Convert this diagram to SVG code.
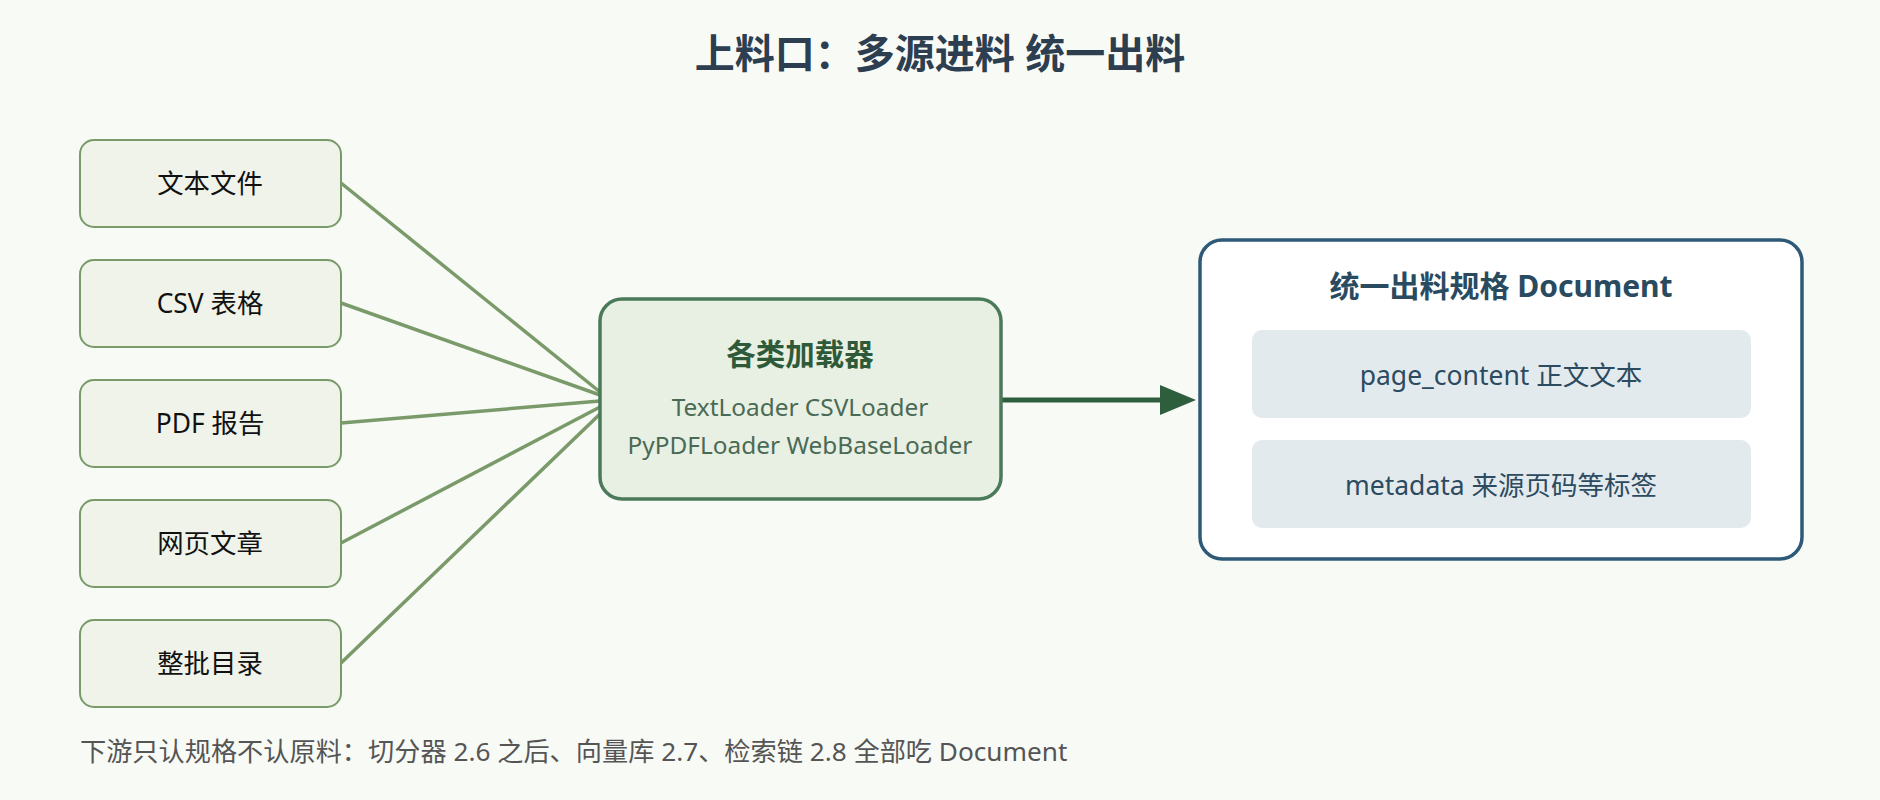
<svg xmlns="http://www.w3.org/2000/svg" width="1880" height="800" viewBox="0 0 1880 800">
<style>
text{font-family:"Noto Sans","Noto Sans CJK SC",sans-serif}
.src rect{fill:#eff3e9;stroke:#7a9a6a;stroke-width:2}
.src text{font-size:26.4px;fill:#111;text-anchor:middle}
.ln{stroke:#7a9a6a;stroke-width:3.5;fill:none}
.in rect{fill:#e3eaee}
.in text{font-size:26.5px;fill:#2c4a60;text-anchor:middle}
</style>
<rect width="1880" height="800" fill="#f8faf6"/>
<text x="940" y="68" font-size="40" font-weight="bold" fill="#2c3e50" text-anchor="middle">上料口：多源进料 统一出料</text>
<g id="connectors">
<line class="ln" x1="341" y1="183" x2="600" y2="392"/>
<line class="ln" x1="341" y1="303" x2="600" y2="395"/>
<line class="ln" x1="341" y1="423" x2="600" y2="401"/>
<line class="ln" x1="341" y1="543" x2="600" y2="407"/>
<line class="ln" x1="341" y1="663" x2="600" y2="414"/>
<line x1="1001" y1="400" x2="1165" y2="400" stroke="#2e5e3e" stroke-width="5"/>
<path d="M1160,385 L1196,400 L1160,415Z" fill="#2e5e3e"/>
</g>
<g id="n1" class="src"><rect x="80" y="140" width="261" height="87" rx="14"/><text x="210" y="193">文本文件</text></g>
<g id="n2" class="src"><rect x="80" y="260" width="261" height="87" rx="14"/><text x="210" y="313">CSV 表格</text></g>
<g id="n3" class="src"><rect x="80" y="380" width="261" height="87" rx="14"/><text x="210" y="433">PDF 报告</text></g>
<g id="n4" class="src"><rect x="80" y="500" width="261" height="87" rx="14"/><text x="210" y="553">网页文章</text></g>
<g id="n5" class="src"><rect x="80" y="620" width="261" height="87" rx="14"/><text x="210" y="673">整批目录</text></g>
<g id="loader">
<rect x="600" y="299" width="401" height="200" rx="22" fill="#e8f0e3" stroke="#4a7a5a" stroke-width="3.5"/>
<text x="800" y="365" font-size="29.5" font-weight="bold" fill="#2f5a3a" text-anchor="middle">各类加载器</text>
<text x="800" y="416" font-size="24.4" fill="#4a6a55" text-anchor="middle">TextLoader CSVLoader</text>
<text x="800" y="454" font-size="24.4" fill="#4a6a55" text-anchor="middle">PyPDFLoader WebBaseLoader</text>
</g>
<g id="document">
<rect x="1200" y="240" width="602" height="319" rx="22" fill="#fff" stroke="#2e5a78" stroke-width="3.5"/>
<text x="1501" y="297" font-size="30" font-weight="bold" fill="#2a4a60" text-anchor="middle">统一出料规格 Document</text>
<g class="in"><rect x="1252" y="330" width="499" height="88" rx="10"/><text x="1501" y="385">page_content 正文文本</text></g>
<g class="in"><rect x="1252" y="440" width="499" height="88" rx="10"/><text x="1501" y="495">metadata 来源页码等标签</text></g>
</g>
<text x="80" y="761" font-size="26.2" fill="#555">下游只认规格不认原料：切分器 2.6 之后、向量库 2.7、检索链 2.8 全部吃 Document</text>
</svg>
